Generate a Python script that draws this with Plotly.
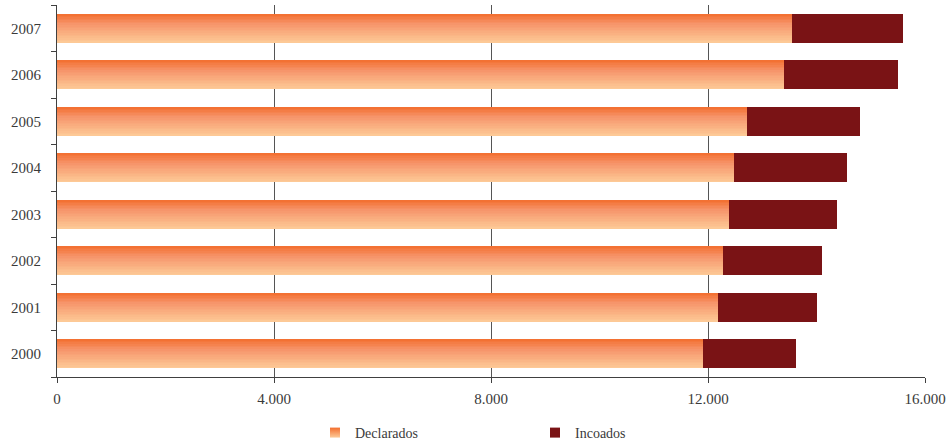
import plotly.graph_objects as go

# ---- data ----
years = ['2000', '2001', '2002', '2003', '2004', '2005', '2006', '2007']
declarados = [11910, 12190, 12280, 12390, 12470, 12710, 13410, 13540]
incoados = [1710, 1820, 1830, 1990, 2100, 2100, 2090, 2060]
x_ticks = [0, 4000, 8000, 12000, 16000]
inner_grid = [4000, 8000, 12000]
series_names = ['Declarados', 'Incoados']

# ---- style ----
BAR_W = 0.625
N_SLICES = 18
INC_COLOR = '#7a1315'
GRAD_STOPS = [(0.0, (243, 110, 46)), (0.35, (246, 148, 106)), (1.0, (253, 203, 152))]


def grad_color(t):
    for (t0, c0), (t1, c1) in zip(GRAD_STOPS[:-1], GRAD_STOPS[1:]):
        if t0 <= t <= t1:
            f = (t - t0) / (t1 - t0) if t1 > t0 else 0
            c = [round(a + (b - a) * f) for a, b in zip(c0, c1)]
            return 'rgb(%d,%d,%d)' % tuple(c)
    return 'rgb(%d,%d,%d)' % GRAD_STOPS[-1][1]


fig = go.Figure()

# helper trace so the overlaying grid axis (inner gridlines) is drawn
fig.add_trace(go.Scatter(x=[None], y=[None], xaxis='x2', yaxis='y',
                         mode='markers', showlegend=False, hoverinfo='skip'))

# Declarados: vertical gradient built from overlapping bars anchored at the top edge
for i in range(N_SLICES):
    depth = (N_SLICES - i) / N_SLICES * BAR_W
    t = (N_SLICES - i - 0.5) / N_SLICES
    fig.add_trace(go.Bar(
        y=years, x=declarados, orientation='h',
        width=depth, offset=BAR_W / 2 - depth,
        marker=dict(color=grad_color(t), line=dict(width=0)),
        showlegend=False, hoverinfo='skip'))

# Incoados stacked after Declarados
fig.add_trace(go.Bar(
    y=years, x=incoados, base=declarados, orientation='h',
    width=BAR_W, offset=-BAR_W / 2,
    marker=dict(color=INC_COLOR, line=dict(width=0)),
    name=series_names[1], showlegend=False))

# legend entries
fig.add_trace(go.Scatter(
    x=[None], y=[None], mode='markers', name=series_names[0],
    marker=dict(symbol='square', size=10, color=grad_color(0.0),
                gradient=dict(type='vertical', color=grad_color(1.0))),
    legend='legend'))
fig.add_trace(go.Scatter(
    x=[None], y=[None], mode='markers', name=series_names[1],
    marker=dict(symbol='square', size=10, color=INC_COLOR),
    legend='legend2'))

W, H = 948, 446
axis_col = '#404040'
fig.update_layout(
    width=W, height=H,
    margin=dict(l=57, r=23, t=5, b=69, autoexpand=False),
    plot_bgcolor='white', paper_bgcolor='white',
    barmode='overlay', bargap=0,
    separators=',.',
    font=dict(family='Liberation Serif', size=15, color='#3a3a3a'),
    xaxis=dict(range=[0, 16000], tickvals=x_ticks, tickformat=',d',
               showgrid=True, gridcolor='#ececec', gridwidth=1,
               showline=True, linecolor=axis_col, linewidth=1,
               ticks='outside', ticklen=5, tickcolor=axis_col,
               ticklabelstandoff=3,
               zeroline=False, fixedrange=True, automargin=False),
    xaxis2=dict(overlaying='x', anchor='y', range=[0, 16000],
                tickvals=inner_grid, showticklabels=False, ticks='',
                showgrid=True, gridcolor='#555555', gridwidth=1,
                showline=False, zeroline=False, automargin=False,
                fixedrange=True),
    yaxis=dict(categoryorder='array', categoryarray=years, type='category',
               range=[-0.5, 7.5],
               showline=True, linecolor=axis_col, linewidth=1,
               ticks='outside', ticklen=5, tickcolor=axis_col,
               tickson='boundaries', ticklabelstandoff=12,
               showgrid=False, zeroline=False, automargin=False),
    legend=dict(orientation='h', xref='container', yref='container',
                x=315 / W, y=1 - 433 / H,
                xanchor='left', yanchor='middle',
                font=dict(size=14), bgcolor='rgba(0,0,0,0)'),
    legend2=dict(orientation='h', xref='container', yref='container',
                 x=535 / W, y=1 - 433 / H,
                 xanchor='left', yanchor='middle',
                 font=dict(size=14), bgcolor='rgba(0,0,0,0)'),
)

fig.write_html('out.html', config={'displayModeBar': False},
               post_script="document.body.style.margin='0';")
